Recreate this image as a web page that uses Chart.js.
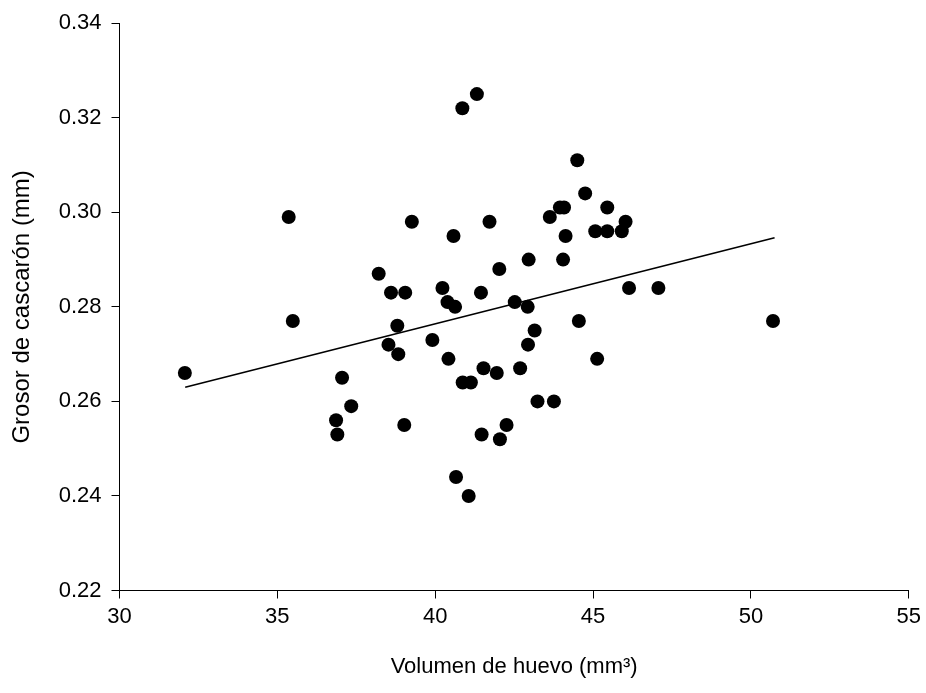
<!DOCTYPE html>
<html>
<head>
<meta charset="utf-8">
<script src="https://cdn.jsdelivr.net/npm/chart.js@4.4.1/dist/chart.umd.min.js"></script>
<style>
  html, body { margin: 0; padding: 0; background: #ffffff; }
  #wrap { width: 926px; height: 693px; }
</style>
</head>
<body>
<div id="wrap"><canvas id="c" width="926" height="693"></canvas></div>
<script>
// Egg volume (mm^3) for each observation
const volumen = [32.07, 35.36, 35.49, 37.05, 36.86, 36.90, 37.34, 38.21, 38.60, 39.05,
                 38.80, 38.52, 38.83, 39.02, 39.26, 39.91, 40.23, 40.39, 40.63, 40.58,
                 40.42, 40.66, 41.06, 40.87, 41.13, 40.86, 41.32, 41.72, 41.45, 41.53,
                 41.95, 41.47, 42.05, 42.03, 42.26, 42.52, 42.93, 42.69, 42.96, 43.15,
                 42.94, 43.24, 43.76, 43.63, 43.95, 44.08, 44.13, 44.05, 44.50, 44.75,
                 44.55, 45.13, 45.07, 45.45, 45.91, 45.45, 46.03, 46.14, 47.07, 50.70];
// Shell thickness (mm) for each observation
const grosor = [0.266, 0.299, 0.277, 0.265, 0.256, 0.253, 0.259, 0.287, 0.283, 0.283,
                0.276, 0.272, 0.270, 0.255, 0.298, 0.273, 0.284, 0.281, 0.280, 0.295,
                0.269, 0.244, 0.240, 0.264, 0.264, 0.322, 0.325, 0.298, 0.283, 0.267,
                0.266, 0.253, 0.252, 0.288, 0.255, 0.281, 0.280, 0.267, 0.290, 0.275,
                0.272, 0.260, 0.260, 0.299, 0.301, 0.301, 0.295, 0.290, 0.311, 0.304,
                0.277, 0.269, 0.296, 0.296, 0.296, 0.301, 0.298, 0.284, 0.284, 0.277];
// Regression line end points
const trendX = [32.08, 50.75];
const trendY = [0.263, 0.2946];
// Axis tick values
const xTicks = [30, 35, 40, 45, 50, 55];
const yTicks = [0.22, 0.24, 0.26, 0.28, 0.30, 0.32, 0.34];

const FONT = "'Liberation Sans', Arial, Helvetica, sans-serif";

const points = volumen.map((v, i) => ({ x: v, y: grosor[i] }));
const trend = trendX.map((v, i) => ({ x: v, y: trendY[i] }));

new Chart(document.getElementById('c'), {
  type: 'scatter',
  data: {
    datasets: [
      {
        label: 'Grosor',
        data: points,
        backgroundColor: '#000000',
        borderColor: '#000000',
        borderWidth: 0,
        pointRadius: 7,
        pointHoverRadius: 7,
        showLine: false,
        order: 2
      },
      {
        label: 'Tendencia',
        type: 'line',
        data: trend,
        borderColor: '#000000',
        borderWidth: 1.6,
        pointRadius: 0,
        fill: false,
        tension: 0,
        order: 1
      }
    ]
  },
  options: {
    responsive: false,
    animation: false,
    devicePixelRatio: 1,
    layout: { padding: { left: 0, top: 19, right: 17, bottom: 0 } },
    plugins: { legend: { display: false }, tooltip: { enabled: false } },
    scales: {
      x: {
        type: 'linear',
        min: xTicks[0],
        max: xTicks[xTicks.length - 1],
        afterBuildTicks: (s) => { s.ticks = xTicks.map(v => ({ value: v })); },
        afterFit: (s) => { s.height = 102.5; },
        ticks: {
          color: '#000000',
          padding: 5,
          font: { family: FONT, size: 22 },
          callback: (v) => String(v)
        },
        grid: {
          display: true,
          drawOnChartArea: false,
          drawTicks: true,
          tickLength: 8,
          color: '#000000',
          lineWidth: 1
        },
        border: { display: true, color: '#000000', width: 1 },
        title: {
          display: true,
          text: 'Volumen de huevo (mm³)',
          color: '#000000',
          font: { family: FONT, size: 22 },
          padding: { top: 0, bottom: 13 }
        }
      },
      y: {
        type: 'linear',
        min: yTicks[0],
        max: yTicks[yTicks.length - 1],
        afterBuildTicks: (s) => { s.ticks = yTicks.map(v => ({ value: v })); },
        afterFit: (s) => { s.width = 119.5; },
        ticks: {
          color: '#000000',
          padding: 10,
          font: { family: FONT, size: 22 },
          callback: (v) => Number(v).toFixed(2)
        },
        grid: {
          display: true,
          drawOnChartArea: false,
          drawTicks: true,
          tickLength: 8,
          color: '#000000',
          lineWidth: 1
        },
        border: { display: true, color: '#000000', width: 1 },
        title: {
          display: true,
          text: 'Grosor de cascarón (mm)',
          color: '#000000',
          font: { family: FONT, size: 24 },
          padding: { top: 8, bottom: 0 }
        }
      }
    }
  }
});
</script>
</body>
</html>
